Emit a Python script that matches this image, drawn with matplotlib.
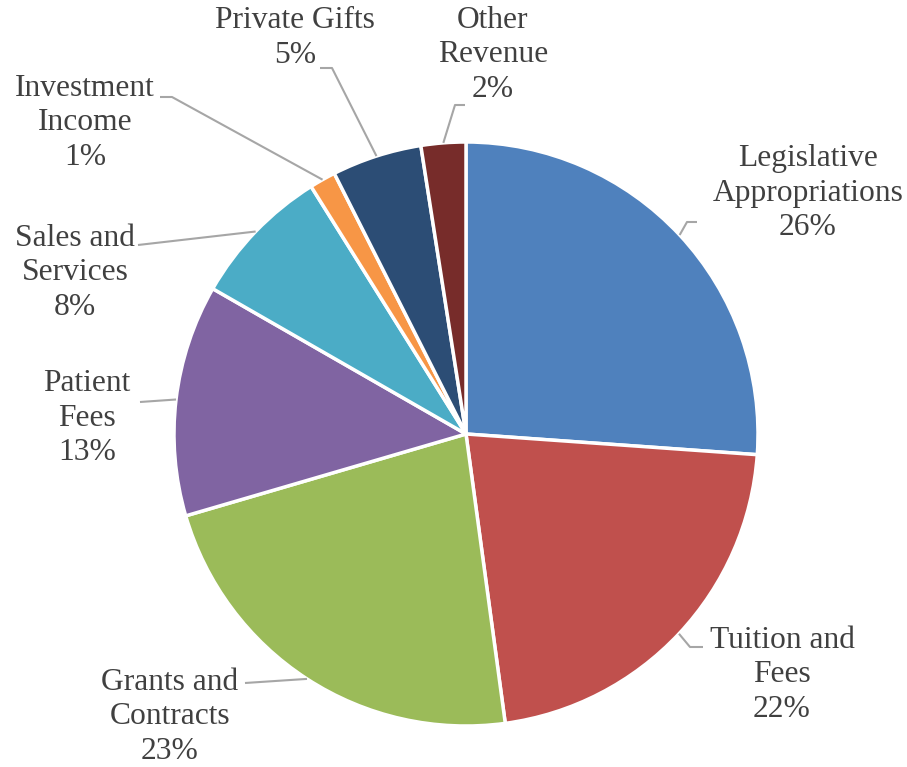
import matplotlib
matplotlib.use("Agg")
import matplotlib.pyplot as plt
import numpy as np

categories = ["Legislative\nAppropriations", "Tuition and\nFees", "Grants and\nContracts",
              "Patient\nFees", "Sales and\nServices", "Investment\nIncome",
              "Private Gifts", "Other\nRevenue"]
values = [26.1, 21.7, 22.6, 12.8, 7.8, 1.45, 4.97, 2.47]
colors = ["#4F81BD", "#C0504D", "#9BBB59", "#8064A2", "#4BACC6", "#F79646", "#2C4D75", "#772C2A"]

W, H = 907, 767
fig = plt.figure(figsize=(W / 100, H / 100), dpi=100)
ax = fig.add_axes([0, 0, 1, 1])

cx, cy, R = 466, H - 434, 292
wedges, _ = ax.pie(values, colors=colors, startangle=90, counterclock=False,
                   center=(cx, cy), radius=R, frame=True,
                   wedgeprops=dict(edgecolor="white", linewidth=2.5))
ax.set_xlim(0, W)
ax.set_ylim(0, H)
ax.axis("off")

# label layout in pixel coords (x, y from top): text center, leader polyline after edge point
layout = [
    ((808, 193), [(687, 222), (697, 222)]),
    ((782, 675), [(690, 647), (703, 647)]),
    ((170, 717), [(245, 683)]),
    ((87, 418), [(140, 402)]),
    ((75, 273), [(138, 245)]),
    ((85, 123), [(172, 97), (160, 97)]),
    ((295, 38), [(332, 68), (320, 68)]),
    ((493, 55), [(455, 105), (465, 105)]),
]

total = sum(values)
for w, cat, v, (tpos, pts) in zip(wedges, categories, values, layout):
    mid = np.deg2rad((w.theta1 + w.theta2) / 2)
    ex, ey = cx + R * np.cos(mid), cy + R * np.sin(mid)
    xs = [ex] + [p[0] for p in pts]
    ys = [ey] + [H - p[1] for p in pts]
    ax.plot(xs, ys, color="#A6A6A6", lw=1.5, solid_capstyle="butt", zorder=3)
    pct = round(v / total * 100)
    ax.text(tpos[0], H - tpos[1], f"{cat}\n{pct}%", ha="center", va="center",
            fontsize=22.7, family="Liberation Serif", color="#404040",
            linespacing=1.27)

fig.savefig("out.png", dpi=100)
